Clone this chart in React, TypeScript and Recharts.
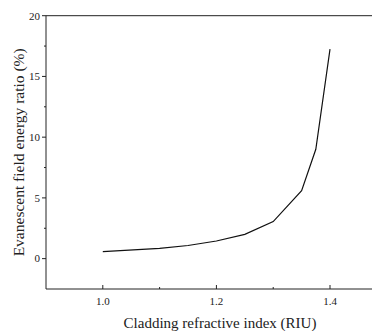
import React from "react";
import { LineChart, Line, XAxis, YAxis, ReferenceLine } from "recharts";

const indexValues = [1.0, 1.1, 1.15, 1.2, 1.25, 1.3, 1.35, 1.375, 1.4];
const ratioValues = [0.58, 0.85, 1.08, 1.45, 2.0, 3.05, 5.6, 9.0, 17.25];
const xTicks = [1.0, 1.1, 1.2, 1.3, 1.4];
const xMajor = ["1.0", "1.2", "1.4"];
const yTicks = [0, 2.5, 5, 7.5, 10, 12.5, 15, 17.5, 20];

const data = indexValues.map((x, i) => ({ x, y: ratioValues[i] }));

const FONT = "'Liberation Serif', 'Times New Roman', serif";
const AXIS = "#222";

const XTick = (props: any) => {
  const { x, y, payload } = props;
  const label = Number(payload.value).toFixed(1);
  const major = xMajor.includes(label);
  return (
    <g>
      <line x1={x} x2={x} y1={y} y2={y - (major ? 4 : 2)} stroke={AXIS} strokeWidth={1} />
      {major && (
        <text x={x} y={y + 15.7} textAnchor="middle" fontSize={11} fontFamily={FONT} fill="#222">
          {label}
        </text>
      )}
    </g>
  );
};

const YTick = (props: any) => {
  const { x, y, payload } = props;
  const v = Number(payload.value);
  const major = v % 5 === 0;
  return (
    <g>
      <line x1={x} x2={x - (major ? 4 : 2)} y1={y} y2={y} stroke={AXIS} strokeWidth={1} />
      {major && (
        <text x={x - 6} y={y} dy="0.35em" textAnchor="end" fontSize={11} fontFamily={FONT} fill="#222">
          {String(v)}
        </text>
      )}
    </g>
  );
};

export default function App() {
  return (
    <LineChart
      width={372}
      height={323}
      data={data}
      margin={{ top: 7.7, right: 0, left: 0, bottom: 0 }}
    >
      <XAxis
        dataKey="x"
        type="number"
        domain={[0.9, 1.488]}
        ticks={xTicks}
        tickLine={false}
        tickSize={0}
        tickMargin={0}
        height={42}
        stroke={AXIS}
        tick={<XTick />}
        interval={0}
        allowDataOverflow
        label={{
          value: "Cladding refractive index (RIU)",
          position: "center",
          dx: 7,
          dy: 13,
          fontSize: 15,
          fontFamily: FONT,
          fill: "#222",
        }}
      />
      <YAxis
        type="number"
        domain={[-2.5, 20]}
        ticks={yTicks}
        tickLine={false}
        tickSize={0}
        tickMargin={0}
        width={38}
        stroke={AXIS}
        tick={<YTick />}
        interval={0}
        allowDataOverflow
        label={{
          value: "Evanescent field energy ratio (%)",
          angle: -90,
          position: "center",
          dx: -8,
          fontSize: 15.5,
          fontFamily: FONT,
          fill: "#222",
        }}
      />
      <ReferenceLine y={20} stroke={AXIS} strokeWidth={1} ifOverflow="extendDomain" />
      <Line
        type="linear"
        dataKey="y"
        stroke="#111"
        strokeWidth={1.2}
        dot={false}
        isAnimationActive={false}
      />
    </LineChart>
  );
}
